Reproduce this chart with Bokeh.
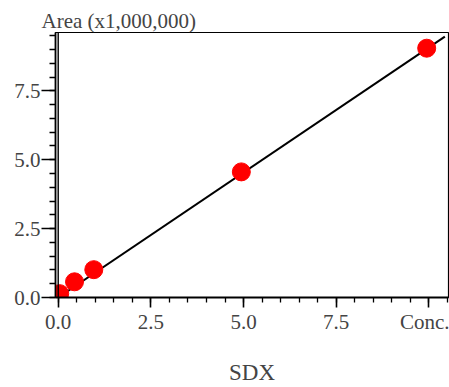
from bokeh.plotting import figure
from bokeh.models import FixedTicker, Range1d, Span
from bokeh.embed import file_html
from bokeh.resources import INLINE

# data
conc = [0.04, 0.44, 0.96, 4.94, 9.94]
area = [0.14, 0.57, 1.01, 4.56, 9.05]
fit_x = [0.0, 10.43]
fit_y = [0.0, 9.47]

x_major = [0, 2.5, 5, 7.5, 10]
x_minor = [i * 0.5 for i in range(0, 22)]
y_major = [0, 2.5, 5, 7.5]
y_minor = [i * 0.5 for i in range(0, 20)]
x_overrides = {0: "0.0", 2.5: "2.5", 5: "5.0", 7.5: "7.5", 10: "Conc."}
y_overrides = {0: "0.0", 2.5: "2.5", 5: "5.0", 7.5: "7.5"}

FONT = "Liberation Serif"

p = figure(width=449, height=387, output_backend="svg", toolbar_location=None,
           x_range=Range1d(-0.073, 10.528), y_range=Range1d(0, 9.62),
           min_border_left=55, min_border_right=1, min_border_top=32, min_border_bottom=85,
           title="Area (x1,000,000)")

p.title.text_font = FONT
p.title.text_font_size = "21px"
p.title.text_font_style = "normal"
p.title.align = "left"
p.title.offset = -14
p.title.standoff = 0

p.grid.visible = False
p.outline_line_color = "black"
p.outline_line_width = 1.2
p.background_fill_color = "white"
p.border_fill_color = "white"

p.line(fit_x, fit_y, line_color="black", line_width=2)
p.scatter(conc, area, size=18, fill_color="#ff0000", line_color="#ff0000")

p.add_layout(Span(location=0, dimension="height", line_color="black", line_width=1.4))

xa = p.xaxis[0]
xa.ticker = FixedTicker(ticks=x_major, minor_ticks=x_minor)
xa.major_label_overrides = x_overrides
xa.axis_label = "SDX"
xa.axis_label_text_font = FONT
xa.axis_label_text_font_size = "23px"
xa.axis_label_text_font_style = "normal"
xa.axis_label_standoff = 23
xa.major_label_text_font = FONT
xa.major_label_text_font_size = "21px"
xa.major_label_standoff = 2
xa.axis_line_width = 2
xa.major_tick_out = 10
xa.major_tick_in = 0
xa.minor_tick_out = 5
xa.minor_tick_in = 0
xa.major_tick_line_width = 1.6
xa.minor_tick_line_width = 1.3

ya = p.yaxis[0]
ya.ticker = FixedTicker(ticks=y_major, minor_ticks=y_minor)
ya.major_label_overrides = y_overrides
ya.major_label_text_font = FONT
ya.major_label_text_font_size = "21px"
ya.major_label_standoff = 1
ya.axis_line_width = 1.7
ya.major_tick_out = 14
ya.major_tick_in = 0
ya.minor_tick_out = 6
ya.minor_tick_in = 0
ya.major_tick_line_width = 1.6
ya.minor_tick_line_width = 1.3

open("out.html", "w").write(file_html(p, INLINE))
